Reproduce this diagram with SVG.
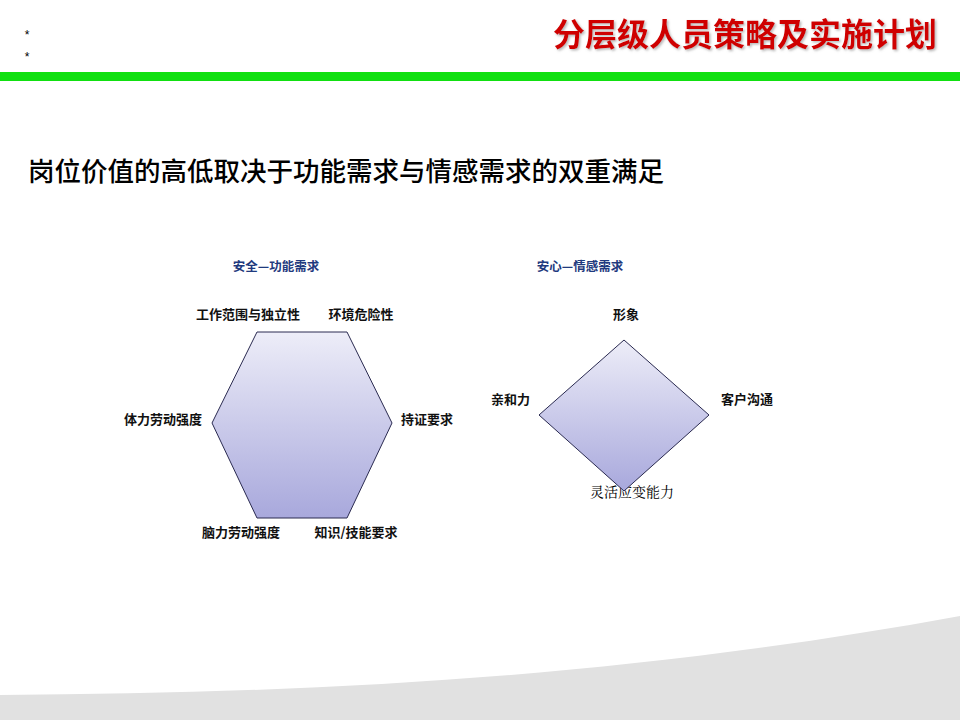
<svg xmlns="http://www.w3.org/2000/svg" width="960" height="720" viewBox="0 0 960 720">
<defs>
<linearGradient id="fillGrad" x1="0" y1="0" x2="0" y2="1">
<stop offset="0" stop-color="#ededf8"/>
<stop offset="1" stop-color="#a8a8dc"/>
</linearGradient>
<filter id="shadow" x="-5%" y="-20%" width="110%" height="140%">
<feDropShadow dx="1.5" dy="1.5" stdDeviation="0.8" flood-color="#888" flood-opacity="0.6"/>
</filter>
</defs>
<style>
.cjk{font-family:"Noto Sans CJK SC","Noto Sans CJK TC",sans-serif;}
.lbl{font-family:"Noto Sans CJK SC",sans-serif;font-size:13px;font-weight:bold;fill:#111;}
.hdr{font-family:"Noto Sans CJK SC",sans-serif;font-size:12.5px;font-weight:bold;fill:#1f3a7e;}
.shape{fill:url(#fillGrad);stroke:#2a2a50;stroke-width:1;}
</style>
<rect width="960" height="720" fill="#ffffff"/>
<path d="M0,695 C320,693 620,678 960,616 L960,720 L0,720 Z" fill="#e1e1e1"/>
<rect x="0" y="72" width="960" height="9" fill="#11e011"/>
<text x="27" y="39" font-family="Liberation Sans, sans-serif" font-size="12" fill="#000" text-anchor="middle">*</text>
<text x="27" y="61" font-family="Liberation Sans, sans-serif" font-size="12" fill="#000" text-anchor="middle">*</text>
<text x="937" y="46" class="cjk" font-size="32" font-weight="bold" fill="#cf0000" text-anchor="end" filter="url(#shadow)">分层级人员策略及实施计划</text>
<text x="28" y="181" class="cjk" font-size="26.5" font-weight="500" fill="#000">岗位价值的高低取决于功能需求与情感需求的双重满足</text>
<g id="functional">
<text x="276" y="271" class="hdr" text-anchor="middle">安全—功能需求</text>
<polygon class="shape" points="257,332 347,332 392,423 347,518 257,518 212,423"/>
<text x="248" y="319" class="lbl" text-anchor="middle">工作范围与独立性</text>
<text x="361" y="319" class="lbl" text-anchor="middle">环境危险性</text>
<text x="202" y="424" class="lbl" text-anchor="end">体力劳动强度</text>
<text x="401" y="424" class="lbl">持证要求</text>
<text x="241" y="537" class="lbl" text-anchor="middle">脑力劳动强度</text>
<text x="356" y="537" class="lbl" text-anchor="middle">知识/技能要求</text>
</g>
<g id="emotional">
<text x="580" y="271" class="hdr" text-anchor="middle">安心—情感需求</text>
<text x="632" y="497" font-family="Noto Serif CJK SC, Noto Sans CJK SC, serif" font-size="14" fill="#000" text-anchor="middle">灵活应变能力</text>
<polygon class="shape" points="624,340 709,415 624,491 539,415"/>
<text x="626" y="319" class="lbl" text-anchor="middle">形象</text>
<text x="530" y="404" class="lbl" text-anchor="end">亲和力</text>
<text x="721" y="404" class="lbl">客户沟通</text>
</g>
<g id="connectors"/>
</svg>
